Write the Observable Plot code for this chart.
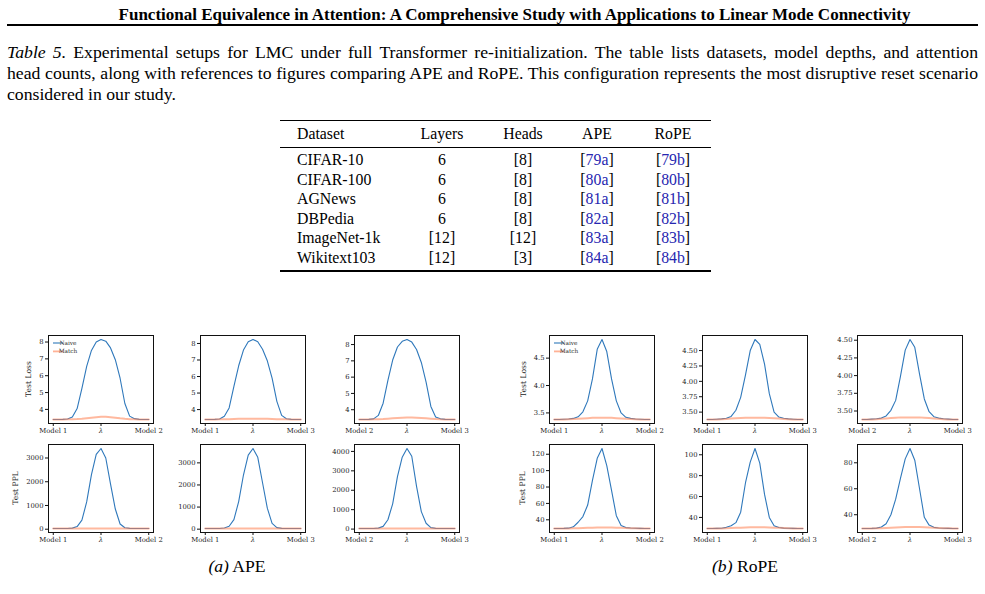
<!DOCTYPE html>
<html><head><meta charset="utf-8">
<script src="https://cdn.jsdelivr.net/npm/d3@7"></script>
<script src="https://cdn.jsdelivr.net/npm/@observablehq/plot@0.6"></script>
<style>
body{margin:0;background:#fff;width:985px;height:594px;overflow:hidden;position:relative;font-family:"Liberation Serif","Times New Roman",serif;color:#000}
.abs{position:absolute;white-space:nowrap}
.cap{position:absolute;left:7px;width:971px;font-size:17.7px;line-height:21px;text-align:justify;text-align-last:justify;white-space:nowrap}
.rule{position:absolute;background:#000}
.cell{position:absolute;font-size:15.8px;line-height:20px;white-space:nowrap}
.link{color:#2626b0}
.ylab{position:absolute;font-family:"DejaVu Serif",serif;font-size:7.6px;color:#222;white-space:nowrap;transform:translate(-50%,-50%) rotate(-90deg)}
svg.pan{position:absolute}
</style></head><body>
<script>
// ---------------- DATA ----------------
const lambda = [0,0.05,0.1,0.15,0.2,0.25,0.3,0.35,0.4,0.45,0.5,0.55,0.6,0.65,0.7,0.75,0.8,0.85,0.9,0.95,1];

// APE – Test Loss
const apeLossNaive12 = [3.40,3.40,3.41,3.43,3.55,4.05,5.25,6.55,7.50,8.00,8.15,8.05,7.65,6.95,5.85,4.35,3.60,3.45,3.41,3.40,3.40];
const apeLossMatch12 = [3.40,3.40,3.40,3.41,3.42,3.43,3.45,3.48,3.51,3.54,3.56,3.56,3.54,3.51,3.47,3.44,3.42,3.41,3.40,3.40,3.40];
const apeLossNaive13 = [3.40,3.40,3.41,3.43,3.60,4.10,5.40,6.65,7.60,8.10,8.24,8.10,7.65,6.95,5.90,4.50,3.65,3.45,3.41,3.40,3.40];
const apeLossMatch13 = [3.40,3.40,3.40,3.41,3.41,3.42,3.43,3.44,3.44,3.45,3.45,3.45,3.44,3.44,3.43,3.42,3.41,3.41,3.40,3.40,3.40];
const apeLossNaive23 = [3.40,3.40,3.41,3.44,3.65,4.40,5.80,7.05,7.85,8.20,8.31,8.15,7.70,6.90,5.70,4.20,3.55,3.44,3.41,3.40,3.40];
const apeLossMatch23 = [3.40,3.40,3.40,3.41,3.42,3.43,3.45,3.47,3.49,3.51,3.52,3.52,3.51,3.49,3.47,3.45,3.43,3.41,3.40,3.40,3.40];
// APE – Test PPL
const apePplNaive12 = [30,30,31,32,45,110,380,1150,2300,3150,3400,3000,1900,850,220,60,35,31,30,30,30];
const apePplMatch12 = [30,30,30,30,30,31,31,32,33,34,35,35,34,33,32,31,31,30,30,30,30];
const apePplNaive13 = [30,30,31,33,50,130,430,1250,2450,3350,3650,3250,2100,950,260,70,36,31,30,30,30];
const apePplMatch13 = [30,30,30,30,30,30,31,31,31,31,31,31,31,31,31,31,30,30,30,30,30];
const apePplNaive23 = [30,30,31,33,50,140,480,1300,2700,3700,4150,3750,2200,900,300,75,37,31,30,30,30];
const apePplMatch23 = [30,30,30,30,30,31,31,32,32,33,34,34,33,32,32,31,31,30,30,30,30];

// RoPE – Test Loss
const ropeLossNaive12 = [3.38,3.38,3.385,3.39,3.40,3.43,3.52,3.72,4.12,4.66,4.84,4.62,4.12,3.72,3.50,3.42,3.40,3.39,3.385,3.38,3.38];
const ropeLossMatch12 = [3.38,3.38,3.38,3.385,3.39,3.395,3.40,3.405,3.41,3.41,3.41,3.41,3.41,3.405,3.40,3.395,3.39,3.385,3.38,3.38,3.38];
const ropeLossNaive13 = [3.38,3.38,3.385,3.39,3.40,3.43,3.53,3.74,4.10,4.50,4.68,4.60,4.28,3.80,3.50,3.42,3.40,3.39,3.385,3.38,3.38];
const ropeLossMatch13 = [3.38,3.38,3.38,3.385,3.39,3.395,3.40,3.405,3.41,3.41,3.41,3.41,3.41,3.405,3.40,3.395,3.39,3.385,3.38,3.38,3.38];
const ropeLossNaive23 = [3.38,3.38,3.385,3.39,3.40,3.43,3.51,3.65,3.99,4.36,4.51,4.40,4.02,3.67,3.49,3.42,3.40,3.39,3.385,3.38,3.38];
const ropeLossMatch23 = [3.38,3.38,3.38,3.385,3.39,3.395,3.40,3.405,3.41,3.41,3.41,3.41,3.41,3.405,3.40,3.395,3.39,3.385,3.38,3.38,3.38];
// RoPE – Test PPL
const ropePplNaive12 = [29.4,29.4,29.5,29.8,31.5,37,44,58,88,115,127,106,76,45,33,30.5,30,29.7,29.5,29.4,29.4];
const ropePplMatch12 = [29.4,29.4,29.4,29.5,29.6,29.8,30,30.2,30.4,30.5,30.6,30.6,30.5,30.4,30.2,30,29.8,29.6,29.5,29.4,29.4];
const ropePplNaive13 = [29.4,29.4,29.5,29.7,30.5,32,35,45,73,93,106,92,62,40,32,30.3,29.8,29.6,29.5,29.4,29.4];
const ropePplMatch13 = [29.4,29.4,29.4,29.5,29.6,29.8,30,30.2,30.4,30.5,30.6,30.6,30.5,30.4,30.2,30,29.8,29.6,29.5,29.4,29.4];
const ropePplNaive23 = [29.4,29.4,29.5,29.7,30.5,33,40,52,68,83,91,82,60,38,32,30.3,29.8,29.6,29.5,29.4,29.4];
const ropePplMatch23 = [29.4,29.4,29.4,29.5,29.6,29.8,30,30.2,30.4,30.5,30.6,30.6,30.5,30.4,30.2,30,29.8,29.6,29.5,29.4,29.4];

// tick values / labels
const xTickValues = [0, 0.5, 1];
const xLabels12 = ["Model 1","λ","Model 2"];
const xLabels13 = ["Model 1","λ","Model 3"];
const xLabels23 = ["Model 2","λ","Model 3"];
const apeLossTicks = [4,5,6,7,8];
const apePplTicks12 = [0,1000,2000,3000];
const apePplTicks13 = [0,1000,2000,3000];
const apePplTicks23 = [0,1000,2000,3000,4000];
const ropeLossTicks12 = [3.5,4.0,4.5];
const ropeLossTicks13 = [3.50,3.75,4.00,4.25,4.50];
const ropeLossTicks23 = [3.50,3.75,4.00,4.25,4.50];
const ropePplTicks12 = [40,60,80,100,120];
const ropePplTicks13 = [40,60,80,100];
const ropePplTicks23 = [40,60,80];
const seriesNames = ["Naive","Match"];

// table
const tableHeader = ["Dataset","Layers","Heads","APE","RoPE"];
const datasets = ["CIFAR-10","CIFAR-100","AGNews","DBPedia","ImageNet-1k","Wikitext103"];
const layers = ["6","6","6","6","[12]","[12]"];
const heads = ["[8]","[8]","[8]","[8]","[12]","[3]"];
const apeRefs = ["79a","80a","81a","82a","83a","84a"];
const ropeRefs = ["79b","80b","81b","82b","83b","84b"];

// ---------------- PAGE TEXT ----------------
const B = document.body;
function add(html, cls, style){ const d=document.createElement("div"); d.className=cls; d.style.cssText=style; d.innerHTML=html; B.appendChild(d); return d; }
add("Functional Equivalence in Attention: A Comprehensive Study with Applications to Linear Mode Connectivity","abs",
  "left:22px;width:985px;text-align:center;top:4.5px;font-size:17px;font-weight:bold;line-height:19px");
add("","rule","left:7px;width:971px;top:24px;height:2px");
add("<i>Table 5.</i> Experimental setups for LMC under full Transformer re-initialization. The table lists datasets, model depths, and attention","cap","top:41.5px");
add("head counts, along with references to figures comparing APE and RoPE. This configuration represents the most disruptive reset scenario","cap","top:62.5px");
add("considered in our study.","cap","top:83.5px;text-align-last:left");

// table
const colCenters = [null,442,523,597,673];
add("","rule","left:280px;width:431px;top:119.5px;height:1.4px");
add("","rule","left:280px;width:431px;top:146.6px;height:0.9px");
add("","rule","left:280px;width:431px;top:270.3px;height:1.4px");
function cell(txt, col, cy){
  if(col===0) add(txt,"cell",`left:297px;top:${cy-10}px`);
  else add(txt,"cell",`left:${colCenters[col]-40}px;width:80px;text-align:center;top:${cy-10}px`);
}
tableHeader.forEach((h,i)=>cell(h,i,133.5));
datasets.forEach((d,r)=>{
  const cy = 160 + r*19.6;
  cell(d,0,cy); cell(layers[r],1,cy); cell(heads[r],2,cy);
  cell(`[<span class="link">${apeRefs[r]}</span>]`,3,cy);
  cell(`[<span class="link">${ropeRefs[r]}</span>]`,4,cy);
});

// sub captions
add("<i>(a)</i> APE","abs","left:137px;width:200px;text-align:center;top:556px;font-size:17.6px;line-height:20px");
add("<i>(b)</i> RoPE","abs","left:645px;width:200px;text-align:center;top:556px;font-size:17.6px;line-height:20px");

// ---------------- CHARTS ----------------
const BLUE = "#2f78bb", ORANGE = "#ff7f50";
const FW = 105, FH = 88, ML = 46, MR = 14, MT = 4, MB = 16;
const fmtInt = d => String(d);
const fmt1 = d => d.toFixed(1);
const fmt2 = d => d.toFixed(2);

const panels = [
  {left:48, top:335, naive:apeLossNaive12, match:apeLossMatch12, yt:apeLossTicks, f:fmtInt, xl:xLabels12, legend:true},
  {left:200,top:335, naive:apeLossNaive13, match:apeLossMatch13, yt:apeLossTicks, f:fmtInt, xl:xLabels13},
  {left:354,top:335, naive:apeLossNaive23, match:apeLossMatch23, yt:apeLossTicks, f:fmtInt, xl:xLabels23},
  {left:48, top:444, naive:apePplNaive12, match:apePplMatch12, yt:apePplTicks12, f:fmtInt, xl:xLabels12},
  {left:200,top:444, naive:apePplNaive13, match:apePplMatch13, yt:apePplTicks13, f:fmtInt, xl:xLabels13},
  {left:354,top:444, naive:apePplNaive23, match:apePplMatch23, yt:apePplTicks23, f:fmtInt, xl:xLabels23},
  {left:549,top:335, naive:ropeLossNaive12, match:ropeLossMatch12, yt:ropeLossTicks12, f:fmt1, xl:xLabels12, legend:true},
  {left:702,top:335, naive:ropeLossNaive13, match:ropeLossMatch13, yt:ropeLossTicks13, f:fmt2, xl:xLabels13},
  {left:857,top:335, naive:ropeLossNaive23, match:ropeLossMatch23, yt:ropeLossTicks23, f:fmt2, xl:xLabels23},
  {left:549,top:444, naive:ropePplNaive12, match:ropePplMatch12, yt:ropePplTicks12, f:fmtInt, xl:xLabels12},
  {left:702,top:444, naive:ropePplNaive13, match:ropePplMatch13, yt:ropePplTicks13, f:fmtInt, xl:xLabels13},
  {left:857,top:444, naive:ropePplNaive23, match:ropePplMatch23, yt:ropePplTicks23, f:fmtInt, xl:xLabels23},
];

panels.forEach(p=>{
  const [lo,hi] = d3.extent(p.naive.concat(p.match));
  const pad = (hi-lo)*0.05;
  const nData = lambda.map((l,i)=>({l, v:p.naive[i]}));
  const mData = lambda.map((l,i)=>({l, v:p.match[i]}));
  const svg = Plot.plot({
    width: FW+ML+MR, height: FH+MT+MB,
    marginLeft: ML, marginRight: MR, marginTop: MT, marginBottom: MB,
    style:{fontFamily:"'DejaVu Serif', serif", fontSize:"6.8px", color:"#222", background:"transparent", overflow:"visible"},
    x:{domain:[-0.05,1.05]},
    y:{domain:[lo-pad, hi+pad]},
    marks:[
      Plot.line(nData,{x:"l", y:"v", stroke:BLUE, strokeWidth:1.1}),
      Plot.line(mData,{x:"l", y:"v", stroke:ORANGE, strokeOpacity:0.55, strokeWidth:2}),
      Plot.frame({stroke:"#111", strokeWidth:1}),
      Plot.axisX({ticks:xTickValues, tickFormat:d=>p.xl[xTickValues.indexOf(d)], tickSize:3, tickPadding:1.5, label:null, stroke:"#111"}),
      Plot.axisY({ticks:p.yt, tickFormat:p.f, tickSize:3, tickPadding:2, label:null, stroke:"#111"})
    ]
  });
  svg.classList.add("pan");
  svg.style.left = (p.left-ML)+"px";
  svg.style.top = (p.top-MT)+"px";
  d3.select(svg).selectAll("text").filter(function(){ return this.textContent === "λ"; }).attr("font-style","italic");
  if(p.legend){
    const g = d3.select(svg).append("g").attr("transform",`translate(${ML},${MT})`);
    [BLUE, ORANGE].forEach((c,i)=>{
      const y = 8 + i*8.4;
      g.append("line").attr("x1",5).attr("x2",15).attr("y1",y).attr("y2",y)
        .attr("stroke",c).attr("stroke-width", i?1.8:1.1).attr("stroke-opacity", i?0.6:1);
      g.append("text").attr("x",20).attr("y",y).attr("dy","0.35em")
        .attr("font-family","'DejaVu Serif', serif").attr("font-size","5.8px").attr("fill","#333").text(seriesNames[i]);
    });
  }
  B.appendChild(svg);
});

// y labels
add("Test Loss","ylab","left:28px;top:379px");
add("Test PPL","ylab","left:15px;top:488px");
add("Test Loss","ylab","left:523px;top:379px");
add("Test PPL","ylab","left:522px;top:488px");
</script>
</body></html>
